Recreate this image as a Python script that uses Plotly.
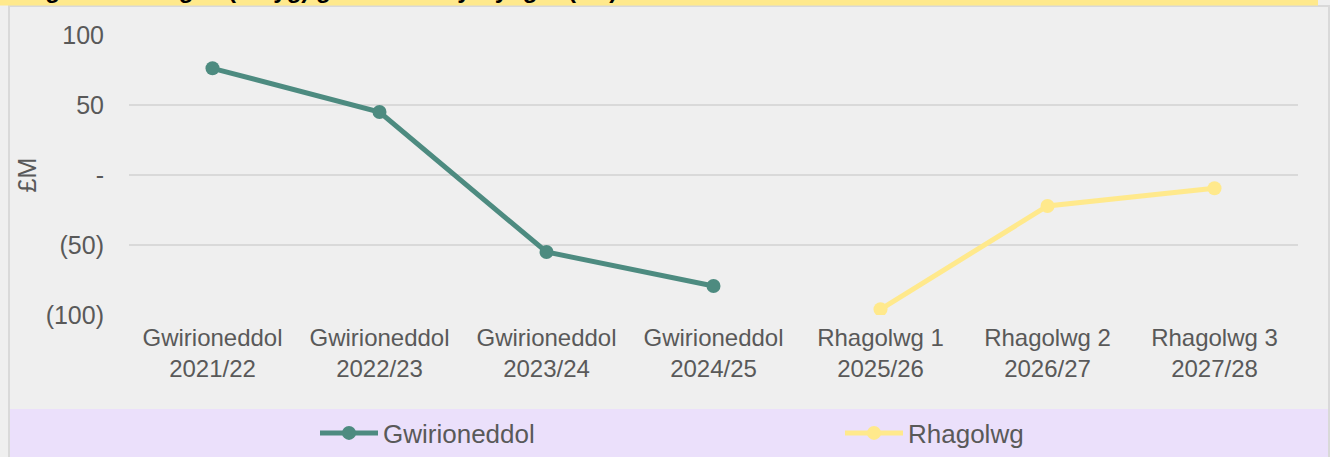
import plotly.graph_objects as go

categories = ["Gwirioneddol<br>2021/22", "Gwirioneddol<br>2022/23", "Gwirioneddol<br>2023/24",
              "Gwirioneddol<br>2024/25", "Rhagolwg 1<br>2025/26", "Rhagolwg 2<br>2026/27",
              "Rhagolwg 3<br>2027/28"]
actual_cats = categories[:4]
actual_vals = [76.2, 45.0, -55.0, -79.3]
forecast_cats = categories[4:]
forecast_vals = [-95.9, -22.1, -9.5]
tick_vals = [100, 50, 0, -50, -100]
tick_text = ["100", "50", "-", "(50)", "(100)"]
title_text = "Ffigur 2: Gwarged/(diffyg) gweithredol y Cyngor (£M)"

W, H = 1330, 457
L, R, T, B = 129, 32, 35, 142
pw, ph = W - L - R, H - T - B

def px(x):
    return (x - L) / pw

def py(y):
    return (H - B - y) / ph

FONT = "Liberation Sans, Arial, sans-serif"
GREY = "#595959"
TEAL = "#4d8b80"
YELLOW = "#ffe98c"

fig = go.Figure()
fig.add_trace(go.Scatter(x=actual_cats, y=actual_vals, name="Gwirioneddol",
                         mode="lines+markers", legend="legend",
                         line=dict(color=TEAL, width=5),
                         marker=dict(size=14, color=TEAL)))
fig.add_trace(go.Scatter(x=forecast_cats, y=forecast_vals, name="Rhagolwg",
                         mode="lines+markers", legend="legend2",
                         line=dict(color=YELLOW, width=5),
                         marker=dict(size=14, color=YELLOW)))

shapes = [
    dict(type="rect", xref="paper", yref="paper", x0=px(9), x1=px(1329), y0=py(6), y1=py(460),
         fillcolor="#efefef", line=dict(color="#d9d9d9", width=2), layer="below"),
    dict(type="rect", xref="paper", yref="paper", x0=px(0), x1=px(1318), y0=py(-2), y1=py(5.5),
         fillcolor=YELLOW, line=dict(width=0), layer="below"),
    dict(type="rect", xref="paper", yref="paper", x0=px(10), x1=px(1328), y0=py(409), y1=py(458),
         fillcolor="#ebe0fb", line=dict(width=0), layer="below"),
]

leg_common = dict(orientation="h", xanchor="left", yanchor="middle", bgcolor="rgba(0,0,0,0)",
                  font=dict(size=26, color=GREY, family=FONT), itemclick=False,
                  itemdoubleclick=False, itemwidth=58)

fig.update_layout(
    width=W, height=H,
    margin=dict(l=L, r=R, t=T, b=B, pad=0, autoexpand=False),
    paper_bgcolor="#efefef", plot_bgcolor="rgba(0,0,0,0)",
    font=dict(family=FONT, color=GREY, size=24),
    shapes=shapes,
    showlegend=True,
    legend=dict(x=px(315), y=py(433), **leg_common),
    legend2=dict(x=px(840), y=py(433), **leg_common),
    annotations=[dict(text="<b>" + title_text + "</b>", xref="paper", yref="paper",
                      x=px(14), y=py(5), xanchor="left", yanchor="bottom", showarrow=False,
                      font=dict(size=24, color="#000000", family=FONT))],
    xaxis=dict(categoryorder="array", categoryarray=categories, range=[-0.5, 6.5],
               showgrid=False, zeroline=False, showline=False, ticks="",
               tickfont=dict(size=24, color=GREY), ticklabelstandoff=6, fixedrange=True),
    yaxis=dict(range=[-100, 100], tickvals=tick_vals, ticktext=tick_text,
               showgrid=True, gridcolor="#d9d9d9", gridwidth=2, zeroline=False,
               showline=False, ticks="", tickfont=dict(size=25, color=GREY),
               ticklabelstandoff=24,
               title=dict(text="£M", font=dict(size=25, color=GREY), standoff=1),
               fixedrange=True),
)

fig.write_html("out.html", config={"displayModeBar": False},
               post_script="document.body.style.margin='0';")
